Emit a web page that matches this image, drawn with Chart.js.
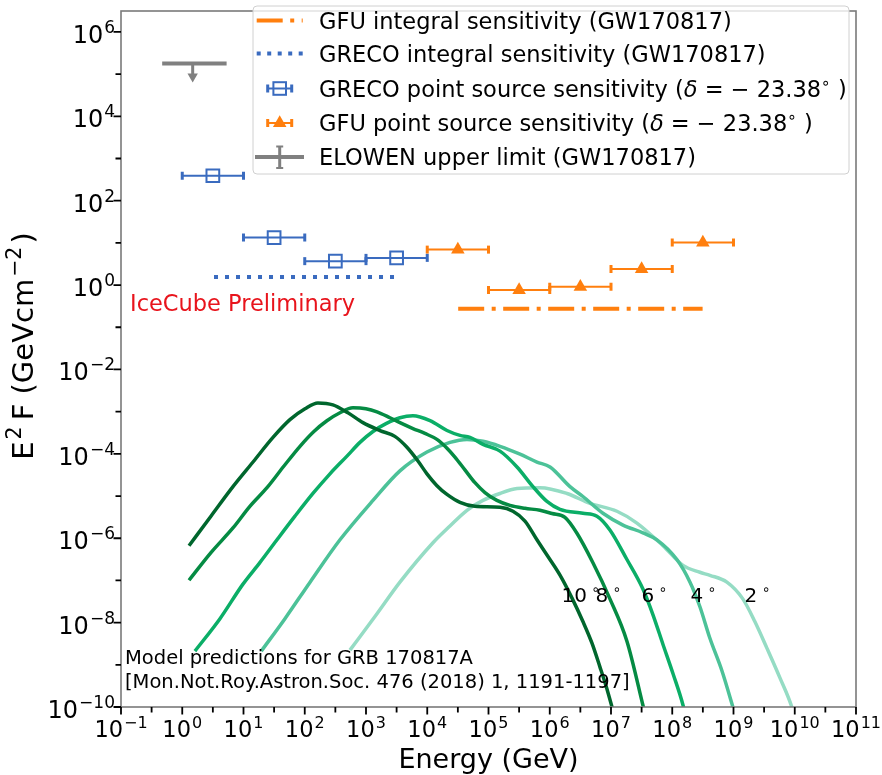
<!DOCTYPE html>
<html>
<head>
<meta charset="utf-8">
<script src="https://cdn.jsdelivr.net/npm/chart.js@4.4.0/dist/chart.umd.min.js"></script>
<style>
  html, body { margin: 0; padding: 0; background: #fff; }
  #wrap { width: 882px; height: 775px; }
</style>
</head>
<body>
<div id="wrap"><canvas id="sed" width="882" height="775"></canvas></div>
<script>
// axis ticks
var xTickValues = [1e-1, 1e0, 1e1, 1e2, 1e3, 1e4, 1e5, 1e6, 1e7, 1e8, 1e9, 1e10, 1e11];
var xMinorTickValues = [0.316, 3.16, 31.6, 316, 3160, 3.16e4, 3.16e5, 3.16e6, 3.16e7, 3.16e8, 3.16e9, 3.16e10];
var yTickValues = [1e-10, 1e-8, 1e-6, 1e-4, 1e-2, 1e0, 1e2, 1e4, 1e6];
var yMinorTickValues = [1e-9, 1e-7, 1e-5, 1e-3, 1e-1, 1e1, 1e3, 1e5];

// model curves (GeV, GeV cm^-2), one per viewing angle
var modelAngles = ['10', '8', '6', '4', '2'];
var energy10 = [1.29, 2.94, 6.73, 14.3, 30.3, 57.3, 101, 164, 288, 507, 891, 1690, 2960, 4660, 7050, 9890, 1.44e4, 2.10e4, 3.42e4, 6.01e4, 1.54e5, 2.51e5, 3.94e5, 6.18e5, 9.35e5, 1.47e6, 2.30e6, 3.48e6, 4.89e6, 6.59e6, 8.26e6, 1.04e7, 1.16e7];
var flux10 = [6.65e-7, 3.33e-6, 1.67e-5, 6.40e-5, 2.45e-4, 6.46e-4, 1.17e-3, 1.61e-3, 1.45e-3, 9.4e-4, 5.5e-4, 3.57e-4, 2.59e-4, 1.43e-4, 6.76e-5, 3.36e-5, 1.76e-5, 1.09e-5, 7.07e-6, 5.70e-6, 5.40e-6, 4.36e-6, 2.55e-6, 9.18e-7, 3.68e-7, 1.33e-7, 3.86e-8, 1.06e-8, 3.25e-9, 8.95e-10, 3.23e-10, 9.9e-11, 5.5e-11];
var energy8 = [1.29, 2.94, 6.73, 12.7, 24.2, 45.8, 83.6, 141, 230, 376, 612, 998, 1510, 2460, 3580, 5840, 9160, 1.44e4, 2.10e4, 2.83e4, 4.12e4, 6.01e4, 8.75e4, 1.37e5, 2.24e5, 3.94e5, 6.92e5, 1.09e6, 1.77e6, 2.78e6, 5.07e6, 9.6e6, 1.82e7, 3.32e7, 3.72e7];
var flux8 = [1.01e-7, 4.56e-7, 1.75e-6, 5.70e-6, 1.58e-5, 5.15e-5, 1.51e-4, 3.39e-4, 6.07e-4, 9.4e-4, 1.23e-3, 1.17e-3, 9.9e-4, 7.18e-4, 5.5e-4, 3.98e-4, 3.04e-4, 2.20e-4, 1.36e-4, 8.38e-5, 4.16e-5, 2.07e-5, 1.21e-5, 7.87e-6, 6.01e-6, 5.12e-6, 4.6e-6, 3.85e-6, 3.11e-6, 1.31e-6, 2.62e-7, 3.66e-8, 3.62e-9, 1.1e-10, 5.5e-11];
var energy6 = [1.61, 4.13, 9.8, 18.6, 35.2, 69.2, 136, 258, 489, 796, 1300, 2120, 3580, 5840, 1.11e4, 2.10e4, 3.42e4, 4.98e4, 8.11e4, 1.54e5, 2.92e5, 5.32e5, 9.0e5, 1.47e6, 3.48e6, 5.89e6, 9.6e6, 1.82e7, 3.32e7, 4.83e7, 7.04e7, 1.03e8, 1.5e8, 1.67e8];
var flux6 = [2.11e-9, 1.24e-8, 8.16e-8, 2.67e-7, 9.18e-7, 3.33e-6, 1.15e-5, 3.36e-5, 8.83e-5, 1.87e-4, 3.39e-4, 5.2e-4, 7.18e-4, 8.0e-4, 6.11e-4, 3.57e-4, 2.73e-4, 2.45e-4, 1.68e-4, 1.16e-4, 4.89e-5, 1.67e-5, 7.46e-6, 4.85e-6, 3.91e-6, 3.33e-6, 1.57e-6, 3.13e-7, 6.25e-8, 1.55e-8, 3.08e-9, 6.15e-10, 1.1e-10, 5.5e-11];
var energy4 = [19.5, 47.5, 122, 376, 1300, 3580, 9890, 2.35e4, 4.45e4, 8.13e4, 1.54e5, 3.27e5, 6.18e5, 1.01e6, 2.14e6, 3.48e6, 7.39e6, 1.57e7, 3.32e7, 5.62e7, 1.19e8, 1.95e8, 2.83e8, 4.12e8, 6.47e8, 9.79e8, 1.1e9];
var flux4 = [2.11e-9, 1.24e-8, 9.1e-8, 9.18e-7, 7.87e-6, 3.94e-5, 1.1e-4, 1.87e-4, 2.2e-4, 1.98e-4, 1.51e-4, 9.84e-5, 6.40e-5, 4.89e-5, 1.67e-5, 9.75e-6, 3.91e-6, 2.05e-6, 1.34e-6, 9.18e-7, 3.13e-7, 9.1e-8, 2.38e-8, 4.25e-9, 7.23e-10, 9.9e-11, 5.5e-11];
var energy2 = [547, 1400, 3580, 1.24e4, 2.35e4, 4.45e4, 8.13e4, 1.54e5, 2.92e5, 6.92e5, 1.91e6, 4.54e6, 1.25e7, 2.65e7, 7.04e7, 1.5e8, 2.83e8, 4.12e8, 7.8e8, 1.42e9, 2.23e9, 3.51e9, 5.71e9, 8.97e9, 1.0e10];
var flux2 = [2.23e-9, 1.39e-8, 9.1e-8, 7.82e-7, 1.95e-6, 4.6e-6, 7.87e-6, 1.15e-5, 1.5e-5, 1.58e-5, 1.15e-5, 6.7e-6, 4.36e-6, 2.29e-6, 6.65e-7, 2.27e-7, 1.56e-7, 1.32e-7, 9.1e-8, 3.65e-8, 1.06e-8, 2.49e-9, 4.97e-10, 9.9e-11, 5.5e-11];
// where each angle label sits (left edge, baseline)
var angleLabelEnergy = [1.55e6, 5.56e6, 3.14e7, 1.98e8, 1.51e9];
var angleLabelFlux = 3.12e-8;

// GRECO point source sensitivity: bin centre, bin edges, flux
var grecoEnergy = [3.16, 31.6, 316, 3160];
var grecoBinLow = [1, 10, 100, 1000];
var grecoBinHigh = [10, 100, 1000, 1e4];
var grecoFlux = [390, 13.4, 3.69, 4.41];

// GFU point source sensitivity
var gfuEnergy = [3.16e4, 3.16e5, 3.16e6, 3.16e7, 3.16e8];
var gfuBinLow = [1e4, 1e5, 1e6, 1e7, 1e8];
var gfuBinHigh = [1e5, 1e6, 1e7, 1e8, 1e9];
var gfuFlux = [6.92, 0.764, 0.913, 2.40, 10.2];

// integral sensitivities (energy range, flux)
var grecoIntegralRange = [3.3, 2970];
var grecoIntegralFlux = 1.56;
var gfuIntegralRange = [3.2e4, 3.13e8];
var gfuIntegralFlux = 0.275;

// ELOWEN upper limit
var elowenRange = [0.47, 5.3];
var elowenEnergy = 1.48;
var elowenFlux = 1.78e5;
var elowenArrowFlux = 8.8e4;

var BLUE = '#3a6bbf', ORANGE = '#ff7f0e', GREY = '#808080', RED = '#e8141c';
var modelColors = ['#00662d', '#058b43', '#0bae67', '#4cc298', '#95dcc4'];

function pairs(xs, ys) {
  return xs.map(function (e, i) { return { x: e, y: ys[i] }; });
}

var datasets = [];
[[energy10, flux10], [energy8, flux8], [energy6, flux6], [energy4, flux4], [energy2, flux2]].forEach(function (c, k) {
  datasets.push({
    data: pairs(c[0], c[1]), showLine: true, borderColor: modelColors[k], borderWidth: 3.5,
    pointRadius: 0, cubicInterpolationMode: 'monotone', clip: 0
  });
});

// integral sensitivity lines
datasets.push({
  data: [{ x: gfuIntegralRange[0], y: gfuIntegralFlux }, { x: gfuIntegralRange[1], y: gfuIntegralFlux }],
  showLine: true, borderColor: ORANGE, borderWidth: 4, borderDash: [26, 7.5, 4, 7.5], borderCapStyle: 'butt', pointRadius: 0
});
datasets.push({
  data: [{ x: grecoIntegralRange[0], y: grecoIntegralFlux }, { x: grecoIntegralRange[1], y: grecoIntegralFlux }],
  showLine: true, borderColor: BLUE, borderWidth: 4, borderDash: [4, 7], borderCapStyle: 'butt', pointRadius: 0
});

// horizontal error bars with caps
function errorBars(lo, hi, flux, color) {
  lo.forEach(function (l, i) {
    datasets.push({
      data: [{ x: l, y: flux[i] }, { x: hi[i], y: flux[i] }],
      showLine: true, borderColor: color, borderWidth: 2,
      pointStyle: 'line', pointRotation: 90, pointRadius: 4, pointBorderWidth: 3, pointBorderColor: color
    });
  });
}
errorBars(grecoBinLow, grecoBinHigh, grecoFlux, BLUE);
errorBars(gfuBinLow, gfuBinHigh, gfuFlux, ORANGE);

datasets.push({
  data: pairs(grecoEnergy, grecoFlux), showLine: false, pointStyle: 'rect', pointRadius: 9,
  pointBorderWidth: 2, pointBorderColor: BLUE, pointBackgroundColor: 'rgba(0,0,0,0)'
});
datasets.push({
  data: pairs(gfuEnergy, gfuFlux), showLine: false, pointStyle: 'triangle', pointRadius: 7.8,
  pointBorderWidth: 0, pointBackgroundColor: ORANGE
});

// upper limit bar and arrow
datasets.push({
  data: [{ x: elowenRange[0], y: elowenFlux }, { x: elowenRange[1], y: elowenFlux }],
  showLine: true, borderColor: GREY, borderWidth: 4, borderCapStyle: 'butt', pointRadius: 0
});
datasets.push({
  data: [{ x: elowenEnergy, y: elowenFlux }, { x: elowenEnergy, y: elowenArrowFlux }],
  showLine: true, borderColor: GREY, borderWidth: 3, pointRadius: [0, 6], pointStyle: 'triangle',
  pointRotation: 180, pointBorderWidth: 0, pointBackgroundColor: GREY
});

// ---- text helpers: runs of plain / superscript / italic pieces ----
function fontOf(r) {
  return (r.it ? 'italic ' : '') + r.s + 'px "DejaVu Sans"';
}
function runsWidth(ctx, runs) {
  var w = 0;
  runs.forEach(function (r) { ctx.font = fontOf(r); w += ctx.measureText(r.t).width + (r.gap || 0); });
  return w;
}
function drawRuns(ctx, x, y, runs, align) {
  var w = runsWidth(ctx, runs);
  var cx = align === 'center' ? x - w / 2 : (align === 'right' ? x - w : x);
  ctx.textAlign = 'left';
  ctx.textBaseline = 'alphabetic';
  runs.forEach(function (r) {
    ctx.font = fontOf(r);
    ctx.fillText(r.t, cx, y - (r.up || 0));
    cx += ctx.measureText(r.t).width + (r.gap || 0);
  });
}
function powerLabel(v, size) {
  var e = Math.round(Math.log10(v));
  return [{ t: '10', s: size, gap: 1 }, { t: String(e).replace('-', '\u2212'), s: size * 0.71, up: size * 0.42 }];
}

var axesDecor = {
  id: 'axesDecor',
  afterDatasetsDraw: function (chart) {
    var ctx = chart.ctx, a = chart.chartArea, xs = chart.scales.x, ys = chart.scales.y;
    ctx.save();
    ctx.fillStyle = '#000';

    // angle labels next to the model curves
    modelAngles.forEach(function (t, i) {
      drawRuns(ctx, xs.getPixelForValue(angleLabelEnergy[i]), ys.getPixelForValue(angleLabelFlux),
        [{ t: t, s: 20 }, { t: ' \u2218', s: 14, up: 8 }], 'left');
    });

    ctx.fillStyle = RED;
    drawRuns(ctx, 130, 311, [{ t: 'IceCube Preliminary', s: 22.5 }], 'left');
    ctx.fillStyle = '#000';
    drawRuns(ctx, 125, 664, [{ t: 'Model predictions for GRB 170817A', s: 19.5 }], 'left');
    drawRuns(ctx, 125, 688, [{ t: '[Mon.Not.Roy.Astron.Soc. 476 (2018) 1, 1191-1197]', s: 19.5 }], 'left');

    // frame
    ctx.strokeStyle = '#7a7a7a';
    ctx.lineWidth = 1.6;
    ctx.strokeRect(a.left, a.top, a.right - a.left, a.bottom - a.top);

    // ticks
    ctx.strokeStyle = '#000';
    ctx.lineWidth = 1.8;
    ctx.beginPath();
    xTickValues.forEach(function (v) {
      var px = xs.getPixelForValue(v);
      ctx.moveTo(px, a.bottom); ctx.lineTo(px, a.bottom + 7.5);
    });
    xMinorTickValues.forEach(function (v) {
      var px = xs.getPixelForValue(v);
      ctx.moveTo(px, a.bottom); ctx.lineTo(px, a.bottom + 5.5);
    });
    yTickValues.forEach(function (v) {
      var py = ys.getPixelForValue(v);
      ctx.moveTo(a.left, py); ctx.lineTo(a.left - 7.5, py);
    });
    yMinorTickValues.forEach(function (v) {
      var py = ys.getPixelForValue(v);
      ctx.moveTo(a.left, py); ctx.lineTo(a.left - 5.5, py);
    });
    ctx.stroke();

    xTickValues.forEach(function (v) {
      drawRuns(ctx, xs.getPixelForValue(v), a.bottom + 30, powerLabel(v, 22.5), 'center');
    });
    yTickValues.forEach(function (v) {
      drawRuns(ctx, a.left - 6, ys.getPixelForValue(v) + 11, powerLabel(v, 24), 'right');
    });

    // axis titles
    drawRuns(ctx, (a.left + a.right) / 2, 768, [{ t: 'Energy (GeV)', s: 27 }], 'center');
    ctx.save();
    ctx.translate(33, 346);
    ctx.rotate(-Math.PI / 2);
    drawRuns(ctx, 0, 0, [
      { t: 'E', s: 29, gap: 2 }, { t: '2', s: 20.5, up: 12, gap: 6 }, { t: 'F (GeVcm', s: 29, gap: 2 },
      { t: '\u22122', s: 20.5, up: 12, gap: 3 }, { t: ')', s: 29 }
    ], 'center');
    ctx.restore();
    ctx.restore();
  },
  afterDraw: function (chart) {
    drawLegend(chart.ctx);
  }
};

function drawLegend(ctx) {
  var bx = 253, by = 6, bw = 596, bh = 168, r = 4;
  var rows = [20.5, 53.5, 88.5, 123, 157];
  var hx0 = 256.7, hx1 = 302.7, hc = 279.7, tx = 319;
  ctx.save();
  ctx.beginPath();
  ctx.moveTo(bx + r, by);
  ctx.arcTo(bx + bw, by, bx + bw, by + bh, r);
  ctx.arcTo(bx + bw, by + bh, bx, by + bh, r);
  ctx.arcTo(bx, by + bh, bx, by, r);
  ctx.arcTo(bx, by, bx + bw, by, r);
  ctx.closePath();
  ctx.fillStyle = 'rgba(255,255,255,0.8)';
  ctx.fill();
  ctx.strokeStyle = '#d0d0d0';
  ctx.lineWidth = 1;
  ctx.stroke();

  ctx.lineCap = 'butt';
  // dash-dot and dotted handles
  ctx.lineWidth = 4;
  ctx.strokeStyle = ORANGE;
  ctx.setLineDash([26, 7.5, 4, 7.5]);
  ctx.beginPath(); ctx.moveTo(hx0, rows[0]); ctx.lineTo(hx1, rows[0]); ctx.stroke();
  ctx.strokeStyle = BLUE;
  ctx.setLineDash([4, 6.5]);
  ctx.beginPath(); ctx.moveTo(hx0, rows[1]); ctx.lineTo(hx1, rows[1]); ctx.stroke();
  ctx.setLineDash([]);

  // error bar handles
  function bar(y, color) {
    ctx.strokeStyle = color;
    ctx.lineWidth = 2;
    ctx.beginPath(); ctx.moveTo(hc - 12, y); ctx.lineTo(hc + 12, y); ctx.stroke();
    ctx.lineWidth = 3;
    ctx.beginPath();
    ctx.moveTo(hc - 12, y - 4); ctx.lineTo(hc - 12, y + 4);
    ctx.moveTo(hc + 12, y - 4); ctx.lineTo(hc + 12, y + 4);
    ctx.stroke();
  }
  bar(rows[2], BLUE);
  ctx.lineWidth = 2;
  ctx.strokeRect(hc - 6.3, rows[2] - 6.3, 12.6, 12.6);
  bar(rows[3], ORANGE);
  ctx.fillStyle = ORANGE;
  ctx.beginPath();
  ctx.moveTo(hc, rows[3] - 7.8);
  ctx.lineTo(hc + 6.75, rows[3] + 3.9);
  ctx.lineTo(hc - 6.75, rows[3] + 3.9);
  ctx.closePath(); ctx.fill();

  // upper limit handle
  ctx.strokeStyle = GREY;
  ctx.lineWidth = 4;
  ctx.beginPath(); ctx.moveTo(255, rows[4]); ctx.lineTo(304, rows[4]); ctx.stroke();
  ctx.lineWidth = 3;
  ctx.beginPath(); ctx.moveTo(hc, rows[4] - 10.5); ctx.lineTo(hc, rows[4] + 11); ctx.stroke();
  ctx.lineWidth = 2;
  ctx.beginPath();
  ctx.moveTo(hc - 3.5, rows[4] - 10.5); ctx.lineTo(hc + 3.5, rows[4] - 10.5);
  ctx.moveTo(hc - 3.5, rows[4] + 11); ctx.lineTo(hc + 3.5, rows[4] + 11);
  ctx.stroke();

  ctx.fillStyle = '#000';
  var s = 22.5;
  var texts = [
    [{ t: 'GFU integral sensitivity (GW170817)', s: s }],
    [{ t: 'GRECO integral sensitivity (GW170817)', s: s }],
    [{ t: 'GRECO point source sensitivity (', s: s }, { t: '\u03b4', s: s, it: true }, { t: ' = \u2212 23.38', s: s }, { t: '\u2218', s: 15.5, up: 9 }, { t: ' )', s: s }],
    [{ t: 'GFU point source sensitivity (', s: s }, { t: '\u03b4', s: s, it: true }, { t: ' = \u2212 23.38', s: s }, { t: '\u2218', s: 15.5, up: 9 }, { t: ' )', s: s }],
    [{ t: 'ELOWEN upper limit (GW170817)', s: s }]
  ];
  texts.forEach(function (runs, i) { drawRuns(ctx, tx, rows[i] + 8, runs, 'left'); });
  ctx.restore();
}

new Chart(document.getElementById('sed'), {
  type: 'scatter',
  data: { datasets: datasets },
  options: {
    responsive: false,
    animation: false,
    layout: { padding: { left: 121, right: 26, top: 0, bottom: 68 } },
    scales: {
      x: { type: 'logarithmic', min: 1e-1, max: 1e11, display: false },
      y: { type: 'logarithmic', min: 1e-10, max: 3.13e6, display: false }
    },
    plugins: { legend: { display: false }, tooltip: { enabled: false } }
  },
  plugins: [axesDecor]
});
</script>
</body>
</html>
